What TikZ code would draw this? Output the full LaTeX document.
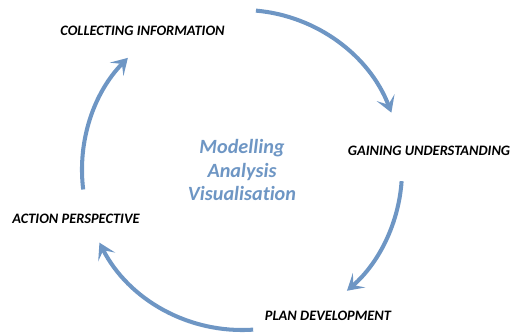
\documentclass[tikz,border=0pt]{standalone}
\usepackage{fontspec}
\setmainfont{Carlito}[Ligatures=NoCommon]
\usetikzlibrary{arrows.meta, positioning, calc}

\definecolor{cycleblue}{RGB}{110,150,196}

\tikzset{
  stage/.style={font=\bfseries\itshape\fontsize{8.2}{10}\selectfont, text=black, inner sep=0pt},
  cyclearrow/.style={cycleblue, line width=2.3pt,
    -{Stealth[length=3.2mm, width=3.8mm, inset=1.5mm]}},
}

\begin{document}
\begin{tikzpicture}
            \useasboundingbox (0,0) rectangle (10.22,6.66);
            \coordinate (mid) at (4.84,3.26);

            % stages round the cycle
            \node[stage] (collect) at (2.85,6.04) {COLLECTING INFORMATION};
            \node[stage] (gain) at (8.58,3.64) {GAINING UNDERSTANDING};
            \node[stage] (plan) at (6.56,0.34) {PLAN DEVELOPMENT};
            \node[stage] (action) at (1.52,2.28) {ACTION PERSPECTIVE};

            \node (core) at (mid) [align=center, text=cycleblue, inner sep=0pt,
              font=\bfseries\itshape\fontsize{11.5}{13.6}\selectfont]
              {Modelling\\Analysis\\Visualisation};

            % arcs between the stages
            \coordinate (c-out) at ($(mid)+(85:3.2)$);
            \coordinate (g-out) at ($(mid)+(-4:3.2)$);
            \coordinate (p-out) at ($(mid)+(-86:3.2)$);
            \coordinate (a-out) at ($(mid)+(187:3.2)$);

            \draw[cyclearrow] (c-out) arc[start angle=85, end angle=21, radius=3.2];
            \draw[cyclearrow] (g-out) arc[start angle=-4, end angle=-49, radius=3.2];
            \draw[cyclearrow] (p-out) arc[start angle=-86, end angle=-153, radius=3.2];
            \draw[cyclearrow] (a-out) arc[start angle=187, end angle=135.5, radius=3.2];

            \end{tikzpicture}
\end{document}
